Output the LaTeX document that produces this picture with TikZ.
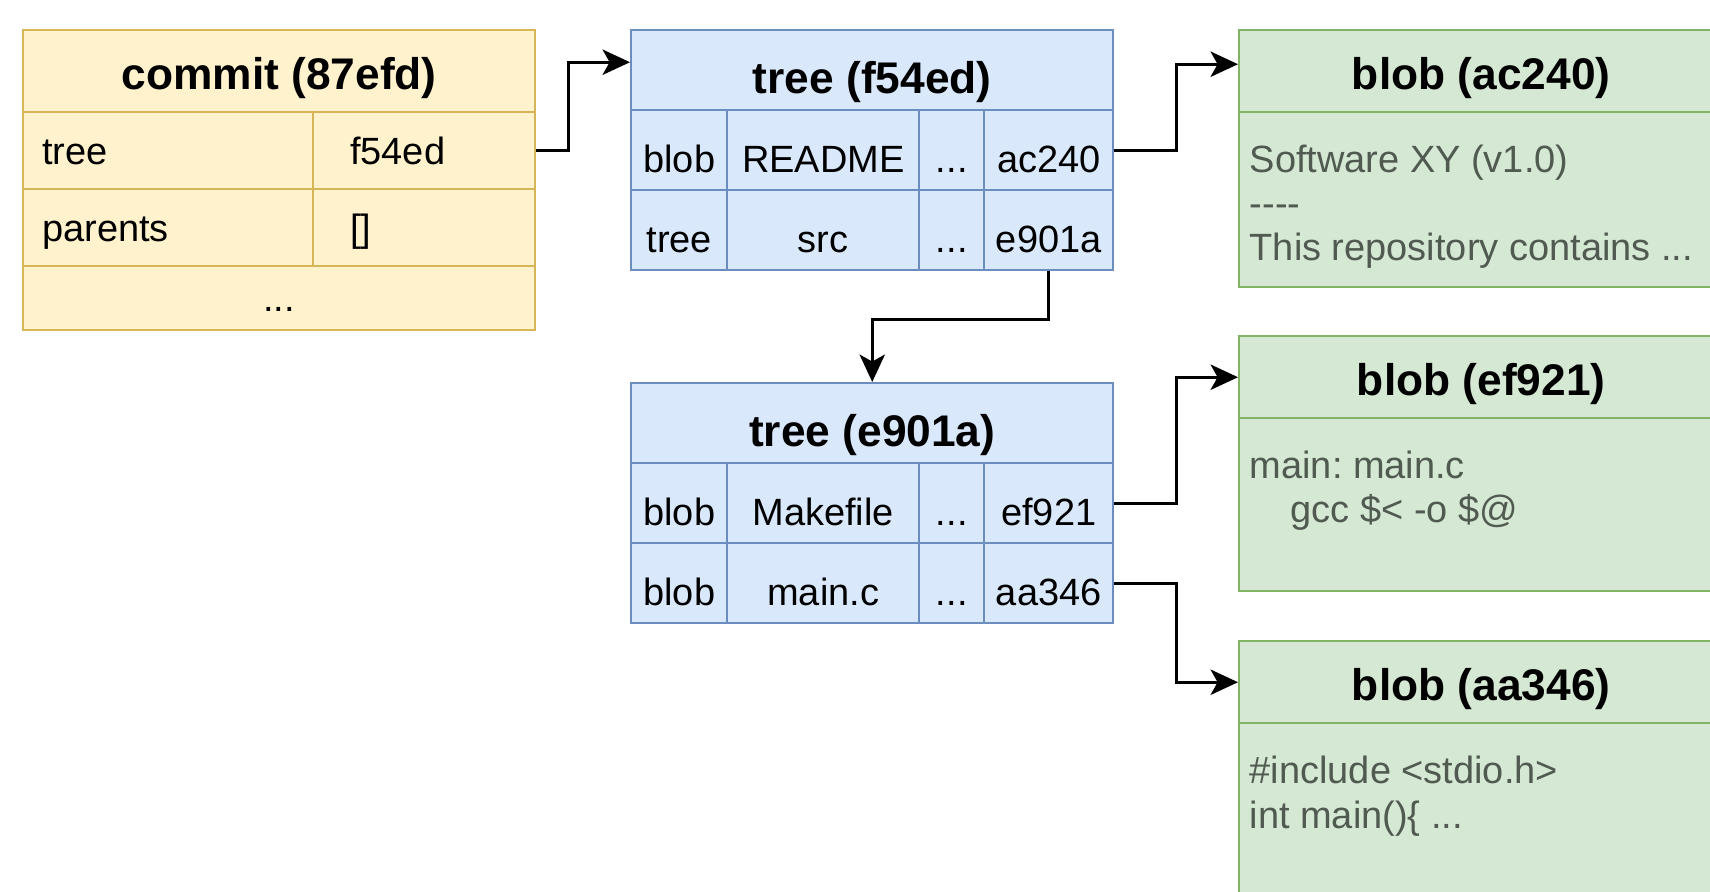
\documentclass[tikz,border=0pt]{standalone}
\usepackage{fontspec}
\setmainfont{Liberation Sans}
\usetikzlibrary{arrows.meta}
\definecolor{commit_fill}{HTML}{FFF2CC}
\definecolor{commit_line}{HTML}{D6B656}
\definecolor{tree_fill}{HTML}{DAE8FC}
\definecolor{tree_line}{HTML}{6C8EBF}
\definecolor{blob_fill}{HTML}{D5E8D4}
\definecolor{blob_line}{HTML}{82B366}
\definecolor{blob_text}{HTML}{505A50}

\tikzset{
  cellsize/.style 2 args={minimum width=#1*0.01cm, minimum height=#2*0.01cm},
  cell/.style={rectangle, draw, line width=0.7pt, inner sep=0pt, anchor=north west,
    font=\fontsize{10.8}{12.6}\selectfont, text height=7.7pt, text depth=0pt},
  head/.style={cell, font=\fontsize{12.6}{15}\selectfont\bfseries, text height=10.3pt},
  commitcell/.style={fill=commit_fill, draw=commit_line},
  treecell/.style={fill=tree_fill, draw=tree_line, text height=12.5pt},
  treehead/.style={fill=tree_fill, draw=tree_line, text height=13.4pt},
  blobcell/.style={fill=blob_fill, draw=blob_line},
  lefttext/.style={text width=#1, align=left},
  blobcontent/.style={anchor=base west, align=left, inner sep=0pt, text=blob_text,
    font=\fontsize{10.8}{12.6}\selectfont\frenchspacing},
  link/.style={draw=black, line width=0.85pt, -{Stealth[length=7.8pt, width=7.2pt, inset=2pt]}},
}

\begin{document}
\begin{tikzpicture}[x=0.01cm, y=-0.01cm]
  \path[use as bounding box, fill=white] (0,0) rectangle (1710,892);
  \clip (0,0) rectangle (1710,892);

  % commit
  \node[head, commitcell, cellsize={512}{82}] (commit) at (22,29) {commit (87efd)};
  \node[cell, commitcell, cellsize={290}{77}, lefttext=2.52cm] (ctree) at (22,111) {tree};
  \node[cell, commitcell, cellsize={222}{77}, lefttext=1.48cm] (ctreeid) at (312,111) {f54ed};
  \node[cell, commitcell, cellsize={290}{77}, lefttext=2.52cm] (cparents) at (22,188) {parents};
  \node[cell, commitcell, cellsize={222}{77}, lefttext=1.48cm] (cparentsid) at (312,188) {[]};
  \node[cell, commitcell, cellsize={512}{64}] (cmore) at (22,265) {...};

  % trees
  \node[head, treehead, cellsize={482}{80}] (f54ed) at (630,29) {tree (f54ed)};
  \foreach \kind/\file/\hash [count=\r] in {blob/README/ac240, tree/src/e901a} {
    \node[cell, treecell, cellsize={96}{80}] (f54ed-\r-kind) at (630,{29+80*\r}) {\kind};
    \node[cell, treecell, cellsize={192}{80}] (f54ed-\r-file) at (726,{29+80*\r}) {\file};
    \node[cell, treecell, cellsize={65}{80}] (f54ed-\r-more) at (918,{29+80*\r}) {...};
    \node[cell, treecell, cellsize={129}{80}] (f54ed-\hash) at (983,{29+80*\r}) {\hash};
  }
  \node[head, treehead, cellsize={482}{80}] (e901a) at (630,382) {tree (e901a)};
  \foreach \kind/\file/\hash [count=\r] in {blob/Makefile/ef921, blob/main.c/aa346} {
    \node[cell, treecell, cellsize={96}{80}] (e901a-\r-kind) at (630,{382+80*\r}) {\kind};
    \node[cell, treecell, cellsize={192}{80}] (e901a-\r-file) at (726,{382+80*\r}) {\file};
    \node[cell, treecell, cellsize={65}{80}] (e901a-\r-more) at (918,{382+80*\r}) {...};
    \node[cell, treecell, cellsize={129}{80}] (e901a-\hash) at (983,{382+80*\r}) {\hash};
  }

  % blobs (text nodes sit on the baseline of their last line)
  \node[head, blobcell, cellsize={484}{82}] (ac240) at (1238,29) {blob (ac240)};
  \node[cell, blobcell, cellsize={484}{175}] (ac240-body) at (1238,111) {};
  \node[blobcontent] (ac240-text) at (1249,261)
    {Software XY (v1.0)\\-\kern0pt-\kern0pt-\kern0pt-\\This repository contains ...};

  \node[head, blobcell, cellsize={484}{82}] (ef921) at (1238,335) {blob (ef921)};
  \node[cell, blobcell, cellsize={484}{173}] (ef921-body) at (1238,417) {};
  \node[blobcontent] (ef921-text) at (1249,523)
    {main: main.c\\\hspace*{11.7pt}gcc \$< -o \$@};

  \node[head, blobcell, cellsize={484}{82}] (aa346) at (1238,640) {blob (aa346)};
  \node[cell, blobcell, cellsize={484}{175}] (aa346-body) at (1238,722) {};
  \node[blobcontent] (aa346-text) at (1249,828)
    {\#include <stdio.h>\\int main()\{ ...};

  % links
  \draw[link] (ctreeid.east) -- ++(32,0) |- ([yshift=0.08cm]f54ed.west);
  \draw[link] (f54ed-ac240.east) -- ++(62,0) |- ([yshift=0.07cm]ac240.west);
  \draw[link] (f54ed-e901a.south) -- ++(0,48) -| (e901a.north);
  \draw[link] (e901a-ef921.east) -- ++(62,0) |- (ef921.west);
  \draw[link] (e901a-aa346.east) -- ++(62,0) |- (aa346.west);
\end{tikzpicture}
\end{document}
